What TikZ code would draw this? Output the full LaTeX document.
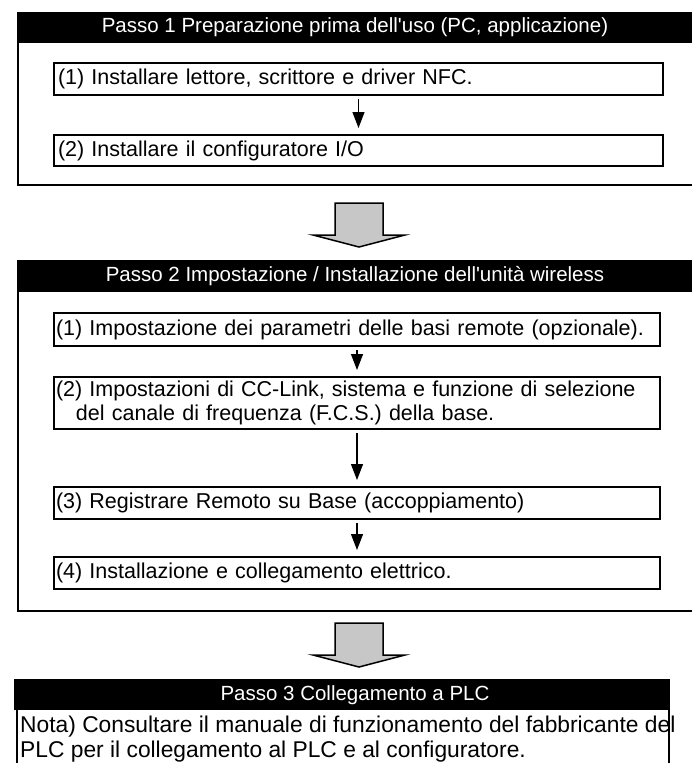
\documentclass[tikz,border=0pt]{standalone}
\usepackage{fontspec}
\newfontfamily\arialfont{Liberation Sans}
\usetikzlibrary{arrows.meta,positioning}
\begin{document}
\begin{tikzpicture}[x=1pt,y=-1pt,
  font=\arialfont\fontsize{21.5}{24}\selectfont,
  outerbox/.style={draw=black,line width=2pt,anchor=north west,inner sep=0pt},
  header/.style={fill=black,anchor=north west,inner sep=0pt},
  headtext/.style={text=white,inner sep=0pt,font=\arialfont\fontsize{20.5}{23}\selectfont},
  stepbox/.style={draw=black,line width=2pt,anchor=north west,inner xsep=4pt,inner ysep=0pt,align=left},
  smallarrow/.style={line width=1.3pt,-{Triangle[width=12pt,length=16pt]},shorten <=3pt,shorten >=6pt},
  bigarrow/.style={draw=black,line width=1.5pt,fill=black!22,line join=miter}
]
\useasboundingbox (0,0) rectangle (691,763);

% ---------- Step 1 ----------
\node[outerbox,minimum width=680pt,minimum height=172pt] (p1) at (17,12) {};
\node[header,minimum width=680pt,minimum height=31pt] (h1) at (17,12) {};
\node[headtext] (h1t) at (355,27) {Passo 1 Preparazione prima dell'uso (PC, applicazione)};
\node[stepbox,text width=601pt,minimum height=32pt] (a1) at (53,62) {(1) Installare lettore, scrittore e driver NFC.};
\node[stepbox,text width=601pt,minimum height=31pt] (a2) at (53,134) {(2) Installare il configuratore I/O};
\draw[smallarrow] (a1) -- (a2);

% ---------- big arrow 1 ----------
\coordinate (g1) at (359,203);
\draw[bigarrow] (g1) ++(-24,0) -- ++(48,0) -- ++(0,32) -- ++(22,0) -- ++(-46,12) -- ++(-46,-12) -- ++(22,0) -- cycle;

% ---------- Step 2 ----------
\node[outerbox,minimum width=680pt,minimum height=350pt] (p2) at (17,260) {};
\node[header,minimum width=680pt,minimum height=32pt] (h2) at (17,260) {};
\node[headtext] (h2t) at (355,276) {Passo 2 Impostazione / Installazione dell'unità wireless};
\node[stepbox,inner xsep=2pt,text width=602pt,minimum height=33pt] (b1) at (53,312) {(1) Impostazione dei parametri delle basi remote (opzionale).};
\node[stepbox,inner xsep=2pt,text width=602pt,minimum height=52pt] (b2) at (53,376) {(2) Impostazioni di CC-Link, sistema e funzione di selezione\\\hspace*{20pt}del canale di frequenza (F.C.S.) della base.};
\node[stepbox,inner xsep=2pt,text width=602pt,minimum height=32pt] (b3) at (53,486) {(3) Registrare Remoto su Base (accoppiamento)};
\node[stepbox,inner xsep=2pt,text width=602pt,minimum height=32pt] (b4) at (53,556) {(4) Installazione e collegamento elettrico.};
\draw[smallarrow] (b1) -- (b2);
\draw[smallarrow] (b2) -- (b3);
\draw[smallarrow] (b3) -- (b4);

% ---------- big arrow 2 ----------
\coordinate (g2) at (359,623);
\draw[bigarrow] (g2) ++(-24,0) -- ++(48,0) -- ++(0,32) -- ++(22,0) -- ++(-46,12) -- ++(-46,-12) -- ++(22,0) -- cycle;

% ---------- Step 3 ----------
\node[outerbox,minimum width=652pt,minimum height=100pt] (p3) at (16,679) {};
\node[header,minimum width=656pt,minimum height=31pt] (h3) at (14,679) {};
\node[headtext] (h3t) at (355,695) {Passo 3 Collegamento a PLC};
\node[anchor=north west,inner sep=0pt,align=left,font=\arialfont\fontsize{22.8}{25}\selectfont] (n3) at (20,716) {Nota) Consultare il manuale di funzionamento del fabbricante del\\PLC per il collegamento al PLC e al configuratore.};
\end{tikzpicture}
\end{document}
